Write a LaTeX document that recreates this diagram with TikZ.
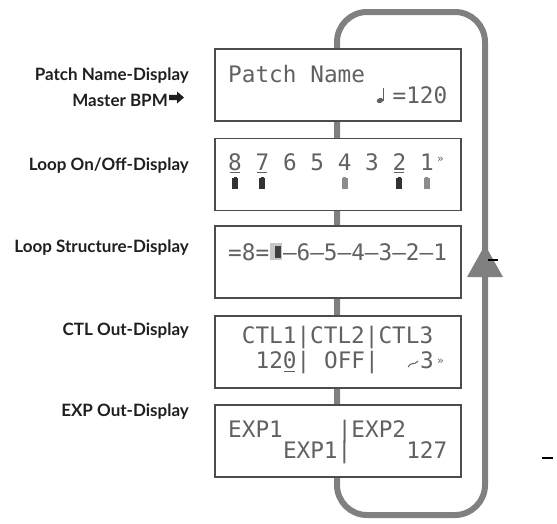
\documentclass[tikz,border=0pt]{standalone}
\usepackage{fontspec}
\usetikzlibrary{calc}
\setmainfont{Lato}
\newfontfamily\lcdfont{DejaVu Sans Mono}
\newfontfamily\symfont{DejaVu Sans}
\newcommand\cx[1]{228+#1*13.7}
\begin{document}
\begin{tikzpicture}[x=1pt,y=-1pt,
  lbl/.style={anchor=base east, font=\bfseries\fontsize{17}{19}\selectfont, text=black!88, inner sep=0pt},
  lcdbox/.style={draw=black!70, line width=1.1pt, fill=white, minimum width=246pt, minimum height=72pt, inner sep=0pt},
  lcd/.style={anchor=base west, font=\lcdfont\fontsize{22.7}{24}\selectfont, text=black!62, inner sep=0pt},
  lcdsmall/.style={anchor=center, font=\lcdfont\fontsize{11}{12}\selectfont, text=black!62, inner sep=0pt},
  loopline/.style={line width=6pt, draw=black!50, rounded corners=30pt},
  batt/.style={fill=black!80},
  battlight/.style={fill=black!45},
  straymark/.style={draw=black, line width=1.2pt}
]
\useasboundingbox (0,0) rectangle (557,523);
% loop
\coordinate (lm) at (337,300);
\coordinate (lt) at (337,12);
\coordinate (rt) at (485,12);
\coordinate (rb) at (485,515);
\coordinate (lb) at (337,515);
\draw[loopline] (lm) -- (lt) -- (rt) -- (rb) -- (lb) -- cycle;
\coordinate (arr) at (485,245);
\fill[black!50] (arr) -- ++(-18,32) -- ++(36,0) -- cycle;
% stray marks
\coordinate (m1a) at (488,260); \coordinate (m1b) at (498,260);
\draw[straymark] (m1a) -- (m1b);
\coordinate (m2a) at (542,458); \coordinate (m2b) at (553,458);
\draw[straymark] (m2a) -- (m2b);
% boxes
\node[lcdbox] (b1) at (338,85) {};
\node[lcdbox] (b2) at (338,174.5) {};
\node[lcdbox] (b3) at (338,262) {};
\node[lcdbox] (b4) at (338,352) {};
\node[lcdbox] (b5) at (338,441) {};
% labels
\node[lbl] (l1) at (189,80) {Patch Name-Display};
\node[lbl] (l2) at (168,106) {Master BPM};
\coordinate (ba) at (169,97.5);
\fill[black!88] (ba) ++(0,-2.6) -- ++(8,0) -- ++(0,-3.4) -- ++(7,6) -- ++(-7,6) -- ++(0,-3.4) -- ++(-8,0) -- cycle;
\node[lbl] (l3) at (189,170.5) {Loop On/Off-Display};
\node[lbl] (l4) at (189,252.5) {Loop Structure-Display};
\node[lbl] (l5) at (189,335.5) {CTL Out-Display};
\node[lbl] (l6) at (189,416.5) {EXP Out-Display};
% box 1
\node[lcd] (t1a) at ({\cx{0}},82) {Patch};
\node[lcd] (t1b) at ({\cx{6}},82) {Name};
\coordinate (note) at (380,100.5);
\fill[black!62, rotate around={20:(note)}] (note) ellipse [x radius=3.4pt, y radius=2.4pt];
\draw[black!62, line width=1pt] ($(note)+(3,0)$) -- ++(0,-13);
\node[lcd] (t1c) at ({\cx{12}},103) {=120};
% box 2
\foreach \d [count=\k from 0] in {8,7,6,5,4,3,2,1}
  \node[lcd] (d\d) at ({\cx{2*\k}},170) {\d};
\node[lcdsmall] (t2r) at ({\cx{15.5}},160) {»};
\foreach \i in {0,2,12} \draw[black!62, line width=1pt] ({\cx{\i}+1.5},172) -- ({\cx{\i}+12},172);
\foreach \i in {0,2,12} {
  \fill[batt] ({\cx{\i}+4},178) rectangle ({\cx{\i}+10},189);
  \fill[batt] ({\cx{\i}+5.5},176.5) rectangle ({\cx{\i}+8.5},178);
}
\foreach \i in {8,14} {
  \fill[battlight] ({\cx{\i}+4},178) rectangle ({\cx{\i}+10},189);
  \fill[battlight] ({\cx{\i}+5.5},176.5) rectangle ({\cx{\i}+8.5},178);
}
% box 3
\node[lcd] (t3a) at ({\cx{0}},260) {=8=};
\fill[black!22] ({\cx{3}+1},243) rectangle ({\cx{3}+13},260);
\fill[black!75] ({\cx{3}+6},246) rectangle ({\cx{3}+12},258);
\node[lcd] (t3b) at ({\cx{4}},260) {–6–5–4–3–2–1};
% box 4
\node[lcd] (t4a) at ({\cx{1}},343) {CTL1|CTL2|CTL3};
\node[lcd] (t4b) at ({\cx{2}},368) {120|};
\draw[black!62, line width=1pt] ({\cx{4}+1.5},371) -- ({\cx{4}+12},371);
\node[lcd] (t4c) at ({\cx{7}},368) {OFF|};
\draw[black!62, line width=1pt] ({\cx{13}+2},367) .. controls ({\cx{13}+5},361) and ({\cx{13}+8},366) .. ({\cx{13}+12},361);
\node[lcd] (t4d) at ({\cx{14}},368) {3};
\node[lcdsmall] (t4r) at ({\cx{15.5}},362) {»};
% box 5
\node[lcd] (t5a) at ({\cx{0}},437) {EXP1};
\node[lcd] (t5b) at ({\cx{8}},437) {|EXP2};
\node[lcd] (t5c) at ({\cx{4}},458) {EXP1|};
\node[lcd] (t5d) at ({\cx{13}},458) {127};
\end{tikzpicture}
\end{document}
